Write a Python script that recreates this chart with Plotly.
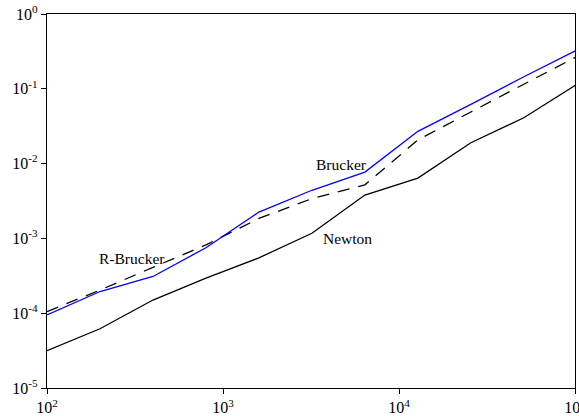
import math
import plotly.graph_objects as go

x_n = [100, 200, 400, 800, 1600, 3200, 6400, 12800, 25600, 51200, 102400]
newton = [3.16e-5, 6.2e-5, 1.5e-4, 2.95e-4, 5.5e-4, 1.17e-3, 3.8e-3, 6.4e-3, 1.9e-2, 4.1e-2, 0.115]
brucker = [9.5e-5, 1.95e-4, 3.1e-4, 7.5e-4, 2.25e-3, 4.4e-3, 7.7e-3, 2.7e-2, 6.2e-2, 0.145, 0.33]
r_brucker = [1.05e-4, 2.04e-4, 4.1e-4, 8.2e-4, 1.85e-3, 3.4e-3, 5.2e-3, 2.07e-2, 4.9e-2, 0.114, 0.27]

x_tickvals = [1e2, 1e3, 1e4, 1e5]
x_ticktext = ["10<sup>2</sup>", "10<sup>3</sup>", "10<sup>4</sup>", "10<sup>5</sup>"]
y_tickvals = [1e-5, 1e-4, 1e-3, 1e-2, 1e-1, 1e0]
y_ticktext = ["10<sup>-5</sup>", "10<sup>-4</sup>", "10<sup>-3</sup>", "10<sup>-2</sup>", "10<sup>-1</sup>", "10<sup>0</sup>"]

labels = ["Brucker", "Newton", "R-Brucker"]
label_x = [4720, 5130, 304]
label_y = [9.7e-3, 1.01e-3, 5.47e-4]

font = "Liberation Serif, Times New Roman, serif"

fig = go.Figure()
fig.add_trace(go.Scatter(x=x_n, y=newton, mode="lines", line=dict(color="black", width=1.3)))
fig.add_trace(go.Scatter(x=x_n, y=r_brucker, mode="lines", line=dict(color="black", width=1.3, dash="12px,9px")))
fig.add_trace(go.Scatter(x=x_n, y=brucker, mode="lines", line=dict(color="#0000ff", width=1.3)))

# annotation positions on log axes are given in log10 units
for t, lx, ly in zip(labels, label_x, label_y):
    fig.add_annotation(x=math.log10(lx), y=math.log10(ly), xref="x", yref="y", text=t, showarrow=False,
                       font=dict(family=font, size=15.5, color="black"))

fig.update_layout(
    width=579, height=416,
    margin=dict(l=47, r=4, t=14, b=28),
    paper_bgcolor="white", plot_bgcolor="white",
    showlegend=False,
    font=dict(family=font, size=15, color="black"),
)
common = dict(showgrid=False, zeroline=False, showline=True, linecolor="black", linewidth=1.3,
              mirror=True, ticks="outside", tickcolor="black", tickwidth=1.3,
              automargin=False, ticklabeloverflow="allow",
              tickfont=dict(family=font, size=16, color="black"))
fig.update_xaxes(type="log", range=[2, 5], tickvals=x_tickvals, ticktext=x_ticktext, ticklen=5, **common)
fig.update_yaxes(type="log", range=[-5, 0], tickvals=y_tickvals, ticktext=y_ticktext, ticklen=5, **common)

fig.write_html("out.html", config={"displayModeBar": False},
               post_script="document.body.style.margin='0px';document.body.style.padding='0px';")
